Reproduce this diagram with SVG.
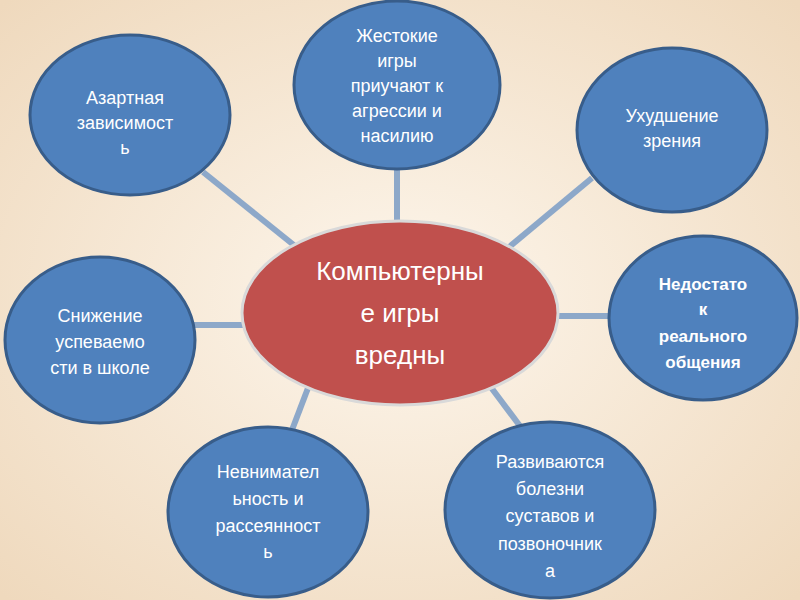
<svg xmlns="http://www.w3.org/2000/svg" width="800" height="600" viewBox="0 0 800 600">
<defs>
<radialGradient id="bg" cx="50%" cy="50%" r="70%"><stop offset="0" stop-color="#fdf6ec"/><stop offset="1" stop-color="#efd9bd"/></radialGradient>
<style>
.n{fill:#4f81bd;stroke:#385d8a;stroke-width:3}
.c{stroke:#8da8c9;stroke-width:6}
.t{font-family:"Liberation Sans",Arial,sans-serif;font-size:18px;fill:#fff;text-anchor:middle}
.b{font-weight:bold;font-size:17px}
</style>
</defs>
<rect width="800" height="600" fill="url(#bg)"/>
<g id="connectors" class="c">
<line x1="397" y1="168" x2="397" y2="224"/>
<line x1="203" y1="172" x2="295" y2="246"/>
<line x1="592" y1="178" x2="508" y2="248"/>
<line x1="193" y1="325" x2="246" y2="325"/>
<line x1="556" y1="316" x2="610" y2="316"/>
<line x1="308" y1="388" x2="292" y2="430"/>
<line x1="490" y1="386" x2="520" y2="426"/>
</g>
<g id="center"><ellipse cx="400" cy="313" rx="158" ry="92" fill="#c0504d" stroke="#d9d9d9" stroke-width="3"/>
<text class="t" style="font-size:26px"><tspan x="400" y="280">Компьютерны</tspan><tspan x="400" y="322">е игры</tspan><tspan x="400" y="364">вредны</tspan></text></g>
<g id="n1"><ellipse class="n" cx="397" cy="85" rx="103" ry="84"/>
<text class="t"><tspan x="397" y="42">Жестокие</tspan><tspan x="397" y="67">игры</tspan><tspan x="397" y="92">приучают к</tspan><tspan x="397" y="117">агрессии и</tspan><tspan x="397" y="142">насилию</tspan></text></g>
<g id="n2"><ellipse class="n" cx="130" cy="115" rx="100" ry="80"/>
<text class="t"><tspan x="125" y="104">Азартная</tspan><tspan x="125" y="129">зависимост</tspan><tspan x="125" y="154">ь</tspan></text></g>
<g id="n3"><ellipse class="n" cx="672" cy="130" rx="95" ry="82"/>
<text class="t"><tspan x="672" y="122">Ухудшение</tspan><tspan x="672" y="147">зрения</tspan></text></g>
<g id="n4"><ellipse class="n" cx="100" cy="340" rx="95" ry="83"/>
<text class="t"><tspan x="100" y="322">Снижение</tspan><tspan x="100" y="348">успеваемо</tspan><tspan x="100" y="374">сти в школе</tspan></text></g>
<g id="n5"><ellipse class="n" cx="703" cy="318" rx="94" ry="82"/>
<text class="t b"><tspan x="703" y="290">Недостато</tspan><tspan x="703" y="315">к</tspan><tspan x="703" y="342">реального</tspan><tspan x="703" y="368">общения</tspan></text></g>
<g id="n6"><ellipse class="n" cx="268" cy="512" rx="100" ry="85"/>
<text class="t"><tspan x="268" y="478">Невнимател</tspan><tspan x="268" y="505">ьность и</tspan><tspan x="268" y="532">рассеянност</tspan><tspan x="268" y="558">ь</tspan></text></g>
<g id="n7"><ellipse class="n" cx="550" cy="510" rx="105" ry="88"/>
<text class="t"><tspan x="550" y="468">Развиваются</tspan><tspan x="550" y="495">болезни</tspan><tspan x="550" y="522">суставов и</tspan><tspan x="550" y="550">позвоночник</tspan><tspan x="550" y="577">а</tspan></text></g>
</svg>
